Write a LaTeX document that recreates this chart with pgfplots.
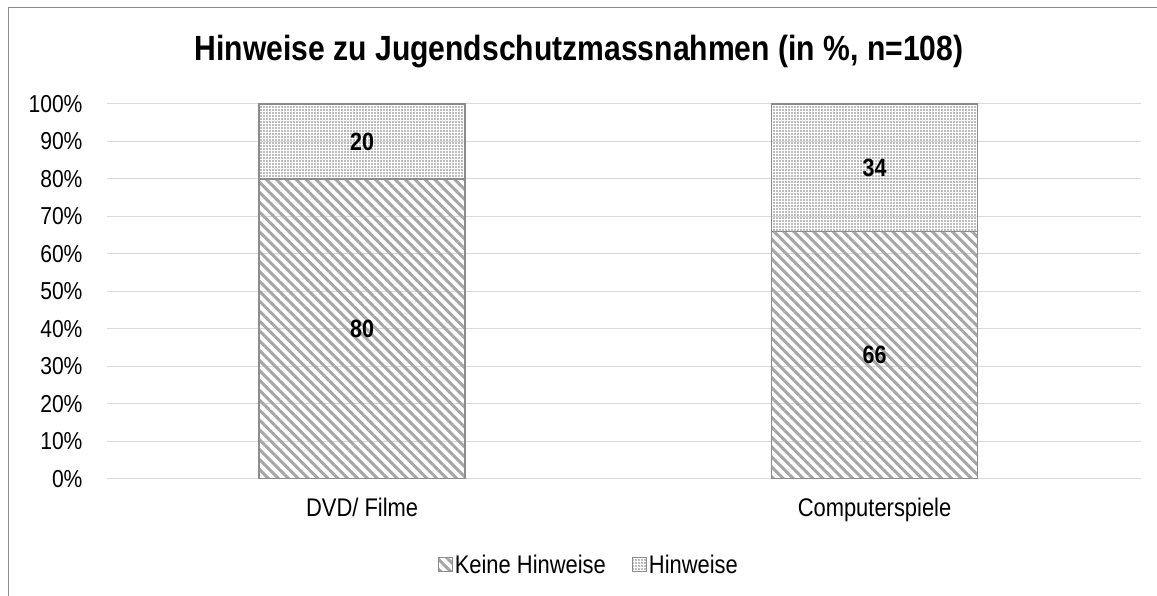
\documentclass[border=0pt]{standalone}
\usepackage{pgfplots}
\usepackage{pgfplotstable}
\pgfplotsset{compat=1.18}
\usepackage{fontspec}
\setmainfont{Liberation Sans}[FakeStretch=0.86]
\usetikzlibrary{patterns.meta}
\definecolor{gridc}{HTML}{D9D9D9}
\definecolor{barline}{HTML}{8C8C8C}
\definecolor{stripe}{HTML}{A6A6A6}
\definecolor{dotc}{HTML}{7A7A7A}

\pgfplotstableread{
x keine hin
0 80 20
1 66 34
}\data

\begin{document}
\begin{tikzpicture}
\useasboundingbox (0pt,0pt) rectangle (1157pt,596pt);
\draw[barline, line width=1.3pt] (8.5pt,0pt) -- (8.5pt,588.5pt) -- (1157pt,588.5pt);
\node[font=\bfseries\fontsize{35}{42}\selectfont] at (579pt,544pt) {Hinweise zu Jugendschutzmassnahmen (in \%, n=108)};
\begin{axis}[
  at={(107pt,117pt)}, anchor=south west,
  width=1034pt, height=375pt, scale only axis,
  ybar stacked, bar width=206pt,
  xmin=-0.498, xmax=1.52, ymin=0, ymax=100,
  xtick={0,1}, xticklabels={DVD/ Filme, Computerspiele},
  ytick={0,10,...,100},
  yticklabel={\pgfmathprintnumber{\tick}\%},
  /pgf/number format/assume math mode=true,
  ymajorgrids, grid style={draw=gridc, line width=1pt},
  axis line style={draw=none},
  major tick style={draw=none},
  tick label style={font=\fontsize{24.5}{29}\selectfont, text=black},
  yticklabel style={xshift=-21pt},
  xticklabel style={yshift=-15pt, font=\fontsize{25.5}{30}\selectfont},
  legend style={at={(0.466,-0.229)}, anchor=center, draw=none, fill=none,
    legend columns=2, font=\fontsize{25.5}{30}\selectfont,
    /tikz/every even column/.append style={column sep=24pt}},
  area legend,
  legend image code/.code={\draw[#1, line width=1pt] (0cm,-7pt) rectangle (14pt,7pt);},
  nodes near coords,
  point meta=explicit,
  every node near coord/.append style={anchor=center, font=\bfseries\fontsize{25}{30}\selectfont, text=black},
]
\addplot[draw=barline, line width=1.8pt, pattern={Lines[angle=-45,distance=7pt,line width=3pt]}, pattern color=stripe]
  table[x=x, y=keine, meta=keine] {\data};
\addlegendentry{Keine Hinweise}
\addplot[draw=barline, line width=1.8pt, pattern={Dots[distance=3pt,radius=0.8pt]}, pattern color=dotc]
  table[x=x, y=hin, meta=hin] {\data};
\addlegendentry{Hinweise}
\end{axis}
\end{tikzpicture}
\end{document}
